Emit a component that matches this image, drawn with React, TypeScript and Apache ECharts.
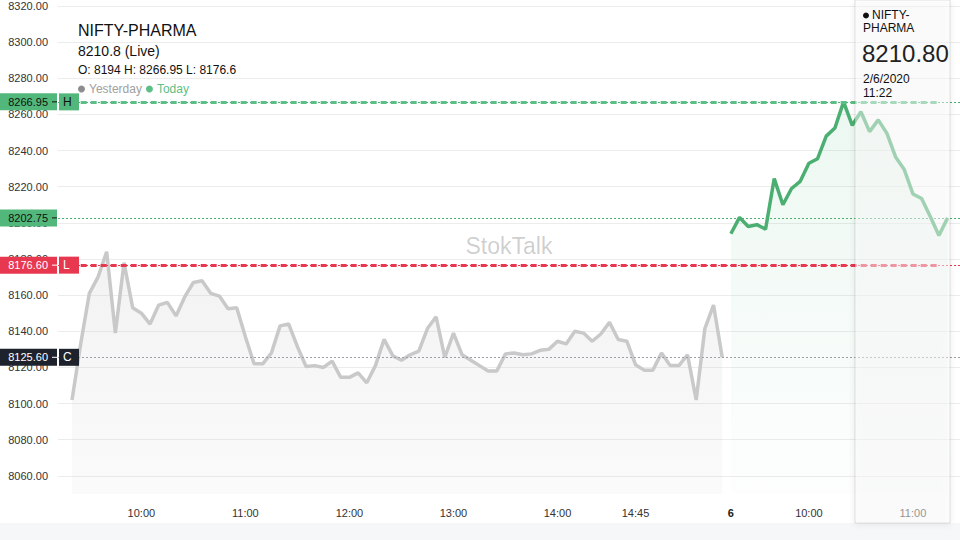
import React, { useEffect, useRef } from "react";
import * as echarts from "echarts";

// ---- data ----
const yesterdayValues = [
  8102, 8133, 8161, 8170, 8184, 8139, 8178, 8153, 8150, 8144,
  8154.5, 8156, 8148.5, 8159, 8167, 8168, 8161, 8159.5, 8152.5, 8153,
  8137, 8122, 8122, 8128, 8143, 8144, 8131.5, 8120.5, 8121, 8120,
  8123.5, 8114.5, 8114.5, 8117, 8111.5, 8121, 8135.5, 8126.5, 8124, 8127,
  8129, 8141.5, 8148, 8125.5, 8139, 8127, 8124, 8121, 8118, 8118,
  8127.5, 8128, 8127, 8127.5, 8129.5, 8130, 8134.5, 8133, 8140, 8139,
  8134.5, 8138.5, 8145, 8135.5, 8134.5, 8121.5, 8118.5, 8118.5, 8128, 8121,
  8121, 8127, 8102, 8141.5, 8154.5, 8125.6,
];
const todayStartIndex = 76;
const todayValues = [
  8194, 8203, 8198, 8199, 8196.5, 8224.5, 8210, 8219, 8223, 8233,
  8235.5, 8248, 8252.5, 8266.95, 8254, 8261.5, 8250.5, 8257, 8249.5, 8236.5,
  8229.5, 8216, 8213.5, 8203.5, 8193, 8202.75,
];
const xTickIndex = [8, 20, 32, 44, 56, 65, 76, 85, 97];
const xTickLabels = ["10:00", "11:00", "12:00", "13:00", "14:00", "14:45", "6", "10:00", "11:00"];
const boldTickLabels = ["6"];
const highValue = 8266.95;
const lowValue = 8176.6;
const closeValue = 8125.6;
const lastValue = 8202.75;
const levelSpan = [1, 100];
const yMin = 8040;
const yMax = 8320;
const yInterval = 20;

const FONT = "'Liberation Sans', Arial, sans-serif";
const GREEN = "#4caf72";
const GREEN_BOX = "#52b77a";
const RED = "#e8384f";
const DARK = "#1e222d";
const GRAY_LINE = "#c9c9c9";

export default function App() {
  const ref = useRef<HTMLDivElement>(null);
  useEffect(() => {
    if (!ref.current) return;
    const chart = echarts.init(ref.current, null, { renderer: "svg" });
    const option: any = {
      animation: false,
      backgroundColor: "#ffffff",
      textStyle: { fontFamily: FONT },
      grid: { left: 58, right: 0, top: 6, bottom: 28, outerBoundsMode: "none", containLabel: false },
      legend: {
        left: 78,
        top: 83,
        padding: 0,
        itemWidth: 7,
        itemHeight: 7,
        itemGap: 4,
        icon: "circle",
        selectedMode: false,
        textStyle: { fontSize: 12, fontFamily: FONT, padding: [0, 0, 0, -1] },
        data: [
          { name: "Yesterday", itemStyle: { color: "#8d8d8d" }, textStyle: { color: "#a0a0a0" } },
          { name: "Today", itemStyle: { color: "#5cbf87" }, textStyle: { color: "#5cbf87" } },
        ],
      },
      xAxis: {
        type: "value",
        min: -1.615,
        max: 102.43,
        axisLine: { show: false },
        axisTick: { show: false },
        splitLine: { show: false },
        axisLabel: {
          customValues: xTickIndex,
          margin: -5,
          color: "#333",
          fontSize: 11,
          fontFamily: FONT,
          formatter: (v: number) => {
            const k = xTickIndex.indexOf(Math.round(v));
            const s = k >= 0 ? xTickLabels[k] : "";
            return boldTickLabels.includes(s) ? `{b|${s}}` : s;
          },
          rich: { b: { fontWeight: "bold", fontSize: 11, color: "#222", fontFamily: FONT } },
        },
      },
      yAxis: {
        type: "value",
        min: yMin,
        max: yMax,
        interval: yInterval,
        axisLine: { show: false },
        axisTick: { show: false },
        splitLine: { show: true, showMinLine: false, lineStyle: { color: "#ececec", width: 1 } },
        axisLabel: {
          showMinLabel: false,
          margin: 10,
          color: "#333",
          fontSize: 11,
          fontFamily: FONT,
          formatter: (v: number) => v.toFixed(2),
        },
      },
      series: [
        {
          name: "Yesterday",
          type: "line",
          data: yesterdayValues.map((v, i) => [i, v]),
          showSymbol: false,
          symbol: "none",
          lineStyle: { color: GRAY_LINE, width: 3.5 },
          itemStyle: { color: "#8d8d8d" },
          areaStyle: {
            origin: 8050,
            color: new echarts.graphic.LinearGradient(0, 0, 0, 1, [
              { offset: 0, color: "rgba(190,190,190,0.28)" },
              { offset: 1, color: "rgba(200,200,200,0.12)" },
            ]),
          },
          z: 3,
          markLine: {
            silent: true,
            symbol: ["none", "none"],
            label: { show: false },
            data: [
              { yAxis: closeValue, lineStyle: { color: "#9aa0a6", type: [2, 2], width: 1 } },
              { yAxis: lowValue, lineStyle: { color: RED, type: [2, 2], width: 1 } },
              { yAxis: highValue, lineStyle: { color: GREEN, type: [2, 2], width: 1 } },
              { yAxis: lastValue, lineStyle: { color: GREEN, type: [2, 2], width: 1 } },
              [
                { coord: [levelSpan[0], highValue], lineStyle: { color: "#5cbf87", type: [6, 4], width: 3 } },
                { coord: [levelSpan[1], highValue] },
              ],
              [
                { coord: [levelSpan[0], lowValue], lineStyle: { color: RED, type: [6, 4], width: 3 } },
                { coord: [levelSpan[1], lowValue] },
              ],
            ],
          },
        },
        {
          name: "Today",
          type: "line",
          data: todayValues.map((v, i) => [todayStartIndex + i, v]),
          showSymbol: false,
          symbol: "none",
          lineStyle: { color: GREEN, width: 3.5 },
          itemStyle: { color: "#5cbf87" },
          areaStyle: {
            origin: 8050,
            color: new echarts.graphic.LinearGradient(0, 0, 0, 1, [
              { offset: 0, color: "rgba(92,191,135,0.16)" },
              { offset: 1, color: "rgba(92,191,135,0.02)" },
            ]),
          },
          z: 4,
        },
      ],
    };
    chart.setOption(option);

    const py = (v: number) => chart.convertToPixel({ yAxisIndex: 0 }, v) as number;
    const priceTag = (value: number, bg: string, fg: string, tag?: string) => {
      const y = py(value);
      const els: any[] = [
        { type: "rect", z: 50, shape: { x: 0, y: y - 8.5, width: 57, height: 17 }, style: { fill: bg } },
        {
          type: "text", z: 51, x: 48, y: y,
          style: { text: value.toFixed(2), fill: fg, font: `11px ${FONT}`, textAlign: "right", textVerticalAlign: "middle" },
        },
        { type: "line", z: 51, shape: { x1: 52, y1: y, x2: 57, y2: y }, style: { stroke: fg, lineWidth: 1 } },
      ];
      if (tag) {
        els.push(
          { type: "rect", z: 50, shape: { x: 59, y: y - 8.5, width: 20, height: 17 }, style: { fill: bg } },
          {
            type: "text", z: 51, x: 63, y: y,
            style: { text: tag, fill: fg, font: `12px ${FONT}`, textAlign: "left", textVerticalAlign: "middle" },
          }
        );
      }
      return els;
    };
    const txt = (text: string, x: number, y: number, size: number, fill = "#111", align = "left") => ({
      type: "text", z: 60, x, y,
      style: { text, fill, font: `${size}px ${FONT}`, textAlign: align, textVerticalAlign: "middle" },
    });

    const graphic: any[] = [
      { type: "rect", z: -10, shape: { x: 0, y: 523, width: 960, height: 17 }, style: { fill: "#f6f7f9" } },
      txt("StokTalk", 509, 246, 23, "rgba(0,0,0,0.2)", "center"),
      txt("NIFTY-PHARMA", 78, 30, 16),
      txt("8210.8 (Live)", 78, 51, 14),
      txt("O: 8194 H: 8266.95 L: 8176.6", 78, 70, 12),
      ...priceTag(highValue, GREEN_BOX, "#111", "H"),
      ...priceTag(lastValue, GREEN_BOX, "#111"),
      ...priceTag(lowValue, RED, "#fff", "L"),
      ...priceTag(closeValue, DARK, "#fff", "C"),
      {
        type: "rect", z: 55, shape: { x: 855, y: 0, width: 95, height: 523 },
        style: { fill: "rgba(255,255,255,0.45)", stroke: "rgba(0,0,0,0.1)", lineWidth: 1, shadowBlur: 6, shadowColor: "rgba(0,0,0,0.18)", shadowOffsetY: 1 },
      },
      { type: "circle", z: 60, shape: { cx: 866, cy: 15.5, r: 3 }, style: { fill: "#111" } },
      txt("NIFTY-", 872, 15, 12),
      txt("PHARMA", 863, 28, 12),
      txt("8210.80", 862, 53, 24, "#222"),
      txt("2/6/2020", 863, 79, 12),
      txt("11:22", 863, 93, 12),
    ];
    chart.setOption({ graphic });

    return () => chart.dispose();
  }, []);
  return <div ref={ref} style={{ position: "absolute", left: 0, top: 0, width: 960, height: 540 }} />;
}
